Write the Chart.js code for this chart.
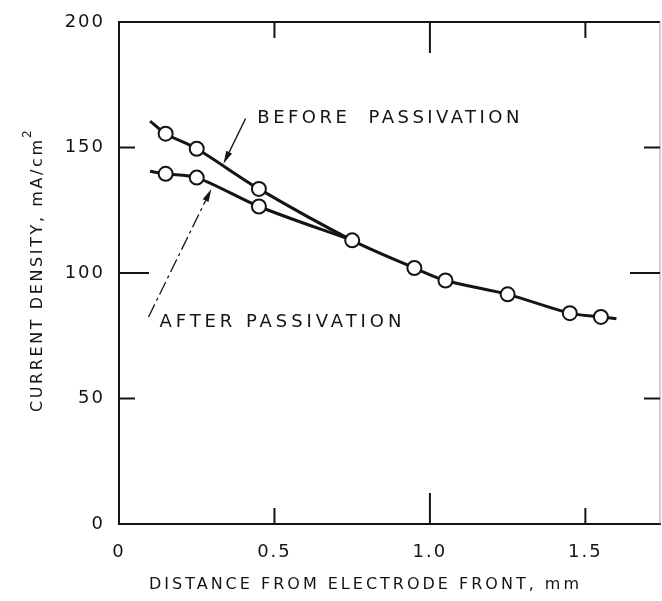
<!DOCTYPE html>
<html>
<head>
<meta charset="utf-8">
<script src="https://cdn.jsdelivr.net/npm/chart.js@4.4.1/dist/chart.umd.min.js"></script>
<style>
  html, body { margin: 0; padding: 0; background: #fff; }
  #wrap { width: 662px; height: 601px; }
</style>
</head>
<body>
<div id="wrap"><canvas id="chart" width="662" height="601"></canvas></div>
<script>
// Tick values and labels
const xTickValues = [0, 0.5, 1.0, 1.5];
const xTickText = ['0', '0.5', '1.0', '1.5'];
const yTickValues = [0, 50, 100, 150, 200];
const yTickText = ['0', '50', '100', '150', '200'];

// Measured points (open circles)
const beforeX = [0.15, 0.25, 0.45];
const beforeY = [155.5, 149.5, 133.5];
const afterX = [0.15, 0.25, 0.45];
const afterY = [139.5, 138, 126.5];
const commonX = [0.75, 0.95, 1.05, 1.25, 1.45, 1.55];
const commonY = [113, 102, 97, 91.5, 84, 82.5];

// Drawn curves
const beforeCurveX = [0.10, 0.15, 0.25, 0.45, 0.75, 0.95, 1.05, 1.25, 1.45, 1.55, 1.60];
const beforeCurveY = [160.5, 155.5, 149.5, 133.5, 113, 102, 97, 91.5, 84, 82.5, 81.8];
const afterCurveX = [0.10, 0.15, 0.25, 0.45, 0.75];
const afterCurveY = [140.5, 139.5, 138, 126.5, 113];

const ink = '#141414';
const pts = (xs, ys) => xs.map((x, i) => ({ x: x, y: ys[i] }));

function spacedText(ctx, text, cx, cy, width) {
    ctx.letterSpacing = '0px';
    const w0 = ctx.measureText(text).width;
    const sp = (width - w0) / (text.length - 1);
    ctx.letterSpacing = sp + 'px';
    ctx.textAlign = 'left';
    ctx.fillText(text, cx - width / 2, cy);
    ctx.letterSpacing = '0px';
}

function arrow(ctx, x1, y1, x2, y2, dash) {
    ctx.save();
    ctx.strokeStyle = ink;
    ctx.fillStyle = ink;
    ctx.lineWidth = 1.3;
    if (dash) ctx.setLineDash(dash);
    const a = Math.atan2(y2 - y1, x2 - x1);
    const hl = 13, hw = 3.2;
    ctx.beginPath();
    ctx.moveTo(x1, y1);
    ctx.lineTo(x2 - hl * Math.cos(a), y2 - hl * Math.sin(a));
    ctx.stroke();
    ctx.setLineDash([]);
    ctx.beginPath();
    ctx.moveTo(x2, y2);
    ctx.lineTo(x2 - hl * Math.cos(a) + hw * Math.sin(a), y2 - hl * Math.sin(a) - hw * Math.cos(a));
    ctx.lineTo(x2 - hl * Math.cos(a) - hw * Math.sin(a), y2 - hl * Math.sin(a) + hw * Math.cos(a));
    ctx.closePath();
    ctx.fill();
    ctx.restore();
}

const frame = {
    id: 'frame',
    beforeDraw(chart) {
        chart.ctx.letterSpacing = '2px';
    },
    afterDatasetsDraw(chart) {
        const ctx = chart.ctx;
        const a = chart.chartArea;
        const xs = chart.scales.x, ys = chart.scales.y;
        ctx.save();
        ctx.strokeStyle = ink;
        ctx.lineWidth = 2;
        // top and right border
        ctx.beginPath();
        ctx.moveTo(a.left, a.top); ctx.lineTo(a.right, a.top);
        ctx.stroke();
        ctx.strokeStyle = '#9a9a9a';
        ctx.lineWidth = 1;
        ctx.beginPath();
        ctx.moveTo(a.right, a.top); ctx.lineTo(a.right, a.bottom);
        ctx.stroke();
        ctx.strokeStyle = ink;
        ctx.lineWidth = 2;
        // inward ticks
        xTickValues.slice(1).forEach(v => {
            const p = xs.getPixelForValue(v);
            const L = v === 1 ? 31 : 16;
            ctx.beginPath();
            ctx.moveTo(p, a.bottom); ctx.lineTo(p, a.bottom - L);
            ctx.moveTo(p, a.top); ctx.lineTo(p, a.top + L);
            ctx.stroke();
        });
        yTickValues.slice(1, -1).forEach(v => {
            const p = ys.getPixelForValue(v);
            const L = v === 100 ? 30 : 16;
            ctx.beginPath();
            ctx.moveTo(a.left, p); ctx.lineTo(a.left + L, p);
            ctx.moveTo(a.right, p); ctx.lineTo(a.right - L, p);
            ctx.stroke();
        });

        // annotations
        ctx.fillStyle = ink;
        ctx.font = '18px "DejaVu Sans"';
        ctx.textBaseline = 'middle';
        const X = v => xs.getPixelForValue(v), Y = v => ys.getPixelForValue(v);
        spacedText(ctx, 'BEFORE  PASSIVATION', X(0.445) + 131, Y(161.5), 262);
        spacedText(ctx, 'AFTER PASSIVATION', X(0.13) + 121, Y(80.5), 242);
        arrow(ctx, X(0.407), Y(161.5), X(0.336), Y(143.5));
        arrow(ctx, X(0.095), Y(82.5), X(0.297), Y(133.5), [14, 4, 3, 4]);

        // axis titles
        ctx.font = '16px "DejaVu Sans"';
        spacedText(ctx, 'DISTANCE FROM ELECTRODE FRONT, mm', 364, 585, 430);
        ctx.save();
        ctx.translate(38, 268);
        ctx.rotate(-Math.PI / 2);
        spacedText(ctx, 'CURRENT DENSITY, mA/cm', -8, 0, 272);
        ctx.font = '12px "DejaVu Sans"';
        ctx.fillText('2', 130, -10);
        ctx.restore();
        ctx.restore();
    }
};

const lineStyle = { borderColor: ink, borderWidth: 3, pointRadius: 0, tension: 0.3, order: 3 };
const dotStyle = { showLine: false, pointRadius: 7, pointBorderWidth: 2, pointBorderColor: ink, pointBackgroundColor: '#fff', order: 1 };

new Chart(document.getElementById('chart'), {
    type: 'line',
    data: {
        datasets: [
            Object.assign({ data: pts(beforeCurveX, beforeCurveY) }, lineStyle),
            Object.assign({ data: pts(afterCurveX, afterCurveY) }, lineStyle),
            Object.assign({ data: pts(beforeX, beforeY) }, dotStyle),
            Object.assign({ data: pts(afterX, afterY) }, dotStyle),
            Object.assign({ data: pts(commonX, commonY) }, dotStyle)
        ]
    },
    options: {
        responsive: false,
        animation: false,
        events: [],
        layout: { autoPadding: false, padding: { top: 22, right: 2, left: 0, bottom: 0 } },
        plugins: { legend: { display: false }, tooltip: { enabled: false } },
        scales: {
            x: {
                type: 'linear',
                min: 0,
                max: 1.74,
                afterBuildTicks: s => { s.ticks = xTickValues.map(v => ({ value: v })); },
                afterFit: s => { s.height = 77; s.paddingRight = 0; s.paddingLeft = 0; },
                grid: { display: false, drawTicks: false },
                border: { display: true, color: ink, width: 2 },
                ticks: {
                    color: ink,
                    padding: 18,
                    maxRotation: 0,
                    font: { family: 'DejaVu Sans', size: 18 },
                    callback: v => xTickText[xTickValues.indexOf(v)]
                }
            },
            y: {
                min: 0,
                max: 200,
                afterBuildTicks: s => { s.ticks = yTickValues.map(v => ({ value: v })); },
                afterFit: s => { s.width = 119; s.paddingTop = 0; s.paddingBottom = 0; },
                grid: { display: false, drawTicks: false },
                border: { display: true, color: ink, width: 2 },
                ticks: {
                    color: ink,
                    padding: 14,
                    font: { family: 'DejaVu Sans', size: 18 },
                    callback: v => yTickText[yTickValues.indexOf(v)]
                }
            }
        }
    },
    plugins: [frame]
});
</script>
</body>
</html>
